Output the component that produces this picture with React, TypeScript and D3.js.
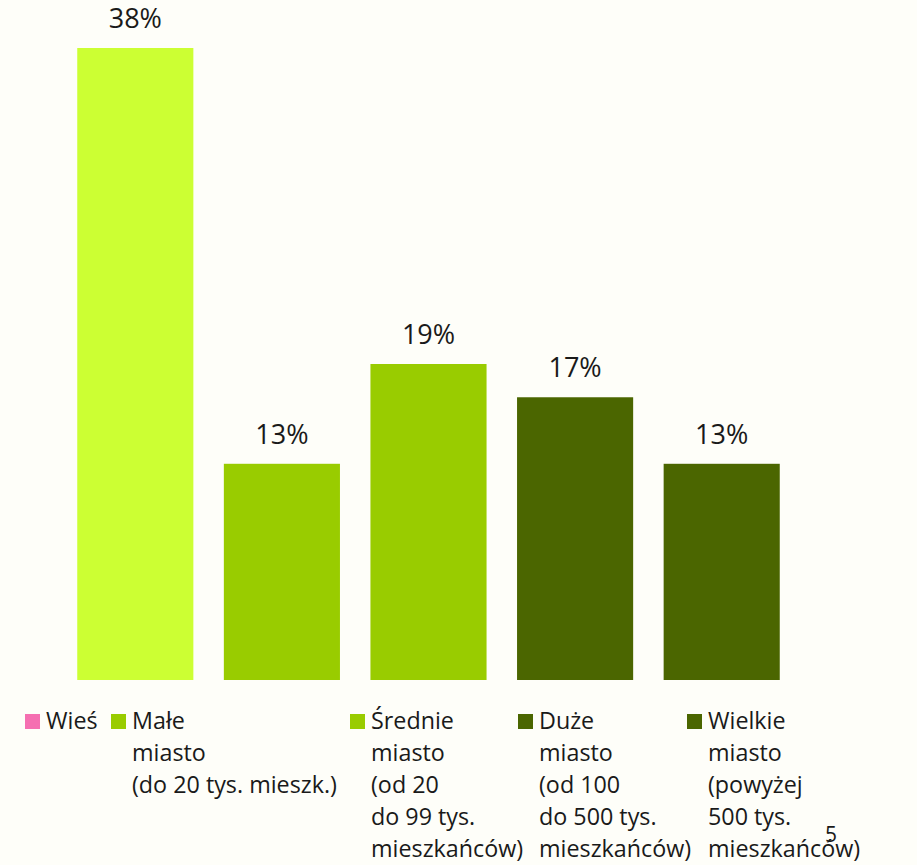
import React from "react";
import * as d3 from "d3";

const categories = ["Wieś", "Małe miasto", "Średnie miasto", "Duże miasto", "Wielkie miasto"];
const barCategories = ["c1", "c2", "c3", "c4", "c5"];
const values = [38, 13, 19, 17, 13];
const labels = ["38%", "13%", "19%", "17%", "13%"];
const barColors = ["#CCFF33", "#99CC00", "#99CC00", "#4B6600", "#4B6600"];
const legendColors = ["#F56FB1", "#99CC00", "#99CC00", "#4B6600", "#4B6600"];
const legendLines = [
  ["Wieś"],
  ["Małe", "miasto", "(do 20 tys. mieszk.)"],
  ["Średnie", "miasto", "(od 20", "do 99 tys.", "mieszkańców)"],
  ["Duże", "miasto", "(od 100", "do 500 tys.", "mieszkańców)"],
  ["Wielkie", "miasto", "(powyżej", "500 tys.", "mieszkańców)"],
];
const legendX = [25, 111, 350, 518, 687];

const W = 917;
const H = 865;
const FONT = "'Open Sans', sans-serif";

export default function App() {
  const x = d3.scaleBand<string>().domain(barCategories).range([62, 795]).paddingInner(0.208).paddingOuter(0.104);
  const y = d3.scaleLinear().domain([0, 38]).range([680, 48]);
  return (
    <svg width={W} height={H} style={{ position: "absolute", left: 0, top: 0, background: "#FEFEF9" }}>
      <rect x={0} y={0} width={W} height={H} fill="#FEFEF9" />
      {values.map((v, i) => (
        <g key={i}>
          <rect x={x(barCategories[i])} y={y(v)} width={x.bandwidth()} height={y(0) - y(v)} fill={barColors[i]} />
          <text
            x={(x(barCategories[i]) as number) + x.bandwidth() / 2}
            y={y(v) - 20}
            textAnchor="middle"
            fontFamily={FONT}
            fontSize={27}
            fill="#1a1a1a"
          >
            {labels[i]}
          </text>
        </g>
      ))}
      {categories.map((c, i) => (
        <g key={c}>
          <rect x={legendX[i]} y={714} width={15} height={15} fill={legendColors[i]} />
          {legendLines[i].map((ln, j) => (
            <text key={j} x={legendX[i] + 21} y={729 + j * 32} fontFamily={FONT} fontSize={23.3} fill="#1a1a1a">
              {ln}
            </text>
          ))}
        </g>
      ))}
      <text x={825} y={842} fontFamily={FONT} fontSize={21} fill="#1a1a1a">5</text>
    </svg>
  );
}
